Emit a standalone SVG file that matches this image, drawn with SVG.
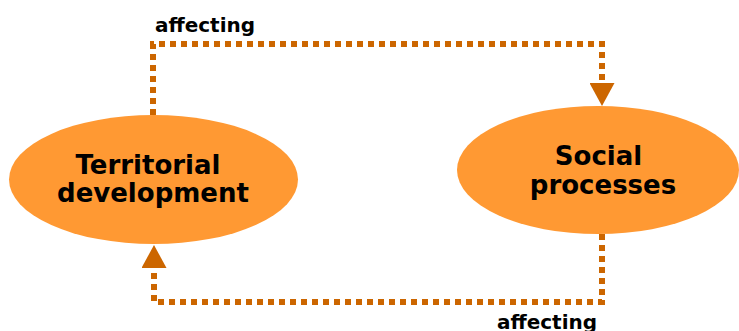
<svg xmlns="http://www.w3.org/2000/svg" width="739" height="331" viewBox="0 0 739 331">
  <style>
    .node { fill: #FF9933; }
    .label { font-family: "DejaVu Sans", Verdana, sans-serif; font-weight: bold; fill: #000; text-anchor: middle; }
    .big { font-size: 26px; }
    .small { font-size: 20px; }
    .conn { fill: none; stroke: #CC6600; stroke-width: 6; stroke-dasharray: 6 5; }
  </style>
  <defs>
    <marker id="arrow" markerUnits="userSpaceOnUse" viewBox="0 0 23 25" refX="0" refY="12.5" markerWidth="23" markerHeight="25" orient="auto">
      <path d="M0,0 L23,12.5 L0,25 Z" fill="#CC6600"/>
    </marker>
  </defs>
  <rect width="739" height="331" fill="#FFFFFF"/>
  <g id="connectors">
    <path class="conn" d="M153,115 V44 H602 V83" marker-end="url(#arrow)"/>
    <path class="conn" d="M602,234 V302 H154 V268" marker-end="url(#arrow)"/>
    <text class="label small" x="205" y="32">affecting</text>
    <text class="label small" x="547" y="329">affecting</text>
  </g>
  <g id="territorial-development">
    <ellipse class="node" cx="153.5" cy="179.5" rx="144.5" ry="64.5"/>
    <text class="label big" x="148" y="174">Territorial</text>
    <text class="label big" x="153" y="202">development</text>
  </g>
  <g id="social-processes">
    <ellipse class="node" cx="598" cy="170" rx="141" ry="64"/>
    <text class="label big" x="598.5" y="165">Social</text>
    <text class="label big" x="603" y="194">processes</text>
  </g>
</svg>
